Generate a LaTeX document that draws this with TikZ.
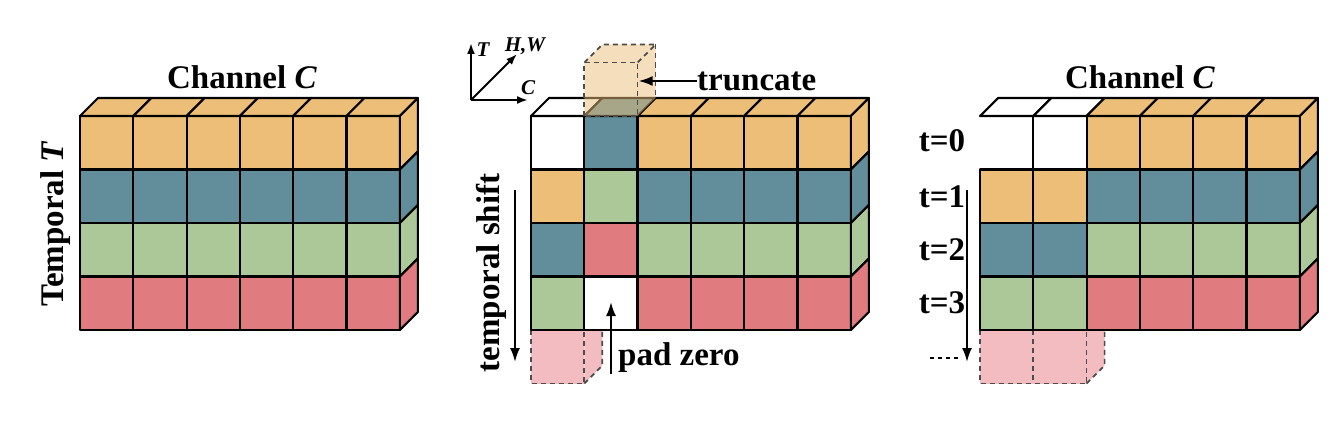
\documentclass[tikz,border=0pt]{standalone}
\usepackage{fontspec}
\setmainfont{Liberation Serif}
\usetikzlibrary{arrows.meta}
\definecolor{ora}{HTML}{ECBE78}
\definecolor{blu}{HTML}{628E9B}
\definecolor{gre}{HTML}{ACC898}
\definecolor{redc}{HTML}{E07C80}
\definecolor{pnk}{HTML}{F2BCC0}
\def\w{53.3}
\def\h{53.5}
\def\d{18}
\newcommand\mycol[5]{\foreach \r/\c in {0/#2,1/#3,2/#4,3/#5}{\filldraw[cell,fill=\c] ({#1},{116+\r*\h}) rectangle ++(\w,\h);}}
\newcommand\mytop[2]{\filldraw[cell,fill=#2] ({#1},116) -- ++(\d,-\d) -- ++(\w,0) -- ++(-\d,\d) -- cycle;}
\newcommand\myside[1]{\foreach \r/\c in {0/ora,1/blu,2/gre,3/redc}{\filldraw[cell,fill=\c] ({#1},{116+\r*\h}) -- ++(\d,-\d) -- ++(0,\h) -- ++(-\d,\d) -- cycle;}}
\begin{document}
\begin{tikzpicture}[x=1pt,y=-1pt,
  cell/.style={draw=black,line width=2.1pt,line join=round},
  dsh/.style={draw=black!70,line width=1.7pt,dash pattern=on 5pt off 4pt},
  arr/.style={line width=2pt,-{Latex[length=14pt,width=10pt]}},
  big/.style={inner sep=0pt,font=\fontsize{33}{36}\selectfont\bfseries},
  small/.style={inner sep=0pt,font=\fontsize{21}{24}\selectfont\bfseries\itshape}]
\useasboundingbox (0,0) rectangle (1332,420);
% ---------------- left block ----------------
\foreach \i in {0,...,5}{\mycol{80+\i*\w}{ora}{blu}{gre}{redc}}
\foreach \i in {0,...,5}{\mytop{80+\i*\w}{ora}}
\myside{80+6*\w}
\node[big] (chL) at (242,77) {Channel \textit{C}};
\node[big,rotate=90] (temT) at (56,224) {Temporal \textit{T}};
% ---------------- middle block ----------------
% padded cell below
\fill[pnk] (531,330) rectangle ++(\w,\h);
\fill[pnk] ({531+\w},330) -- ++(\d,0) -- ({531+\w+\d},{330+\h-\d}) -- ({531+\w},{330+\h}) -- cycle;
\draw[dsh] (531,330) -- ++(0,\h) -- ++(\w,0) -- ++(0,-\h);
\draw[dsh] ({531+\w},{330+\h}) -- ++(\d,-\d) -- ({531+\w+\d},330);
\mycol{531}{white}{ora}{blu}{gre}
\mycol{531+\w}{blu}{gre}{redc}{white}
\foreach \i in {2,...,5}{\mycol{531+\i*\w}{ora}{blu}{gre}{redc}}
\mytop{531}{white}
\mytop{531+\w}{blu}
\foreach \i in {2,...,5}{\mytop{531+\i*\w}{ora}}
\myside{531+6*\w}
\draw[line width=3pt] ({531+2*\w},116) -- ({531+2*\w},330);
% truncated cube
\fill[ora,opacity=0.5] ({531+\w},116) -- ++(0,-\h) -- ++(\d,-\d) -- ++(\w,0) -- ++(0,\h) -- ++(-\d,\d) -- cycle;
\draw[dsh] ({531+\w},116) rectangle ++(\w,-\h);
\draw[dsh] ({531+\w},{116-\h}) -- ++(\d,-\d) -- ++(\w,0) -- ++(-\d,\d);
\draw[dsh] ({531+2*\w+\d},{116-\h-\d}) -- ({531+2*\w+\d},{116-\d});
% axes
\coordinate (ax0) at (471,100);
\coordinate (axT) at (471,43);
\coordinate (axC) at (528,100);
\coordinate (axH) at (517,54);
\draw[line width=2pt,-{Latex[length=11pt,width=8pt]}] (ax0) -- (axT);
\draw[line width=2pt,-{Latex[length=11pt,width=8pt]}] (ax0) -- (axC);
\draw[line width=2pt,-{Latex[length=11pt,width=8pt]}] (ax0) -- (axH);
\node[small] (lT) at (483,50) {T};
\node[small] (lHW) at (525,46) {H,W};
\node[small] (lC) at (528,88) {C};
% labels and arrows
\node[big,anchor=west] (trunc) at (697,81) {truncate};
\coordinate (truncTip) at ({531+2*\w+1},81);
\draw[arr] (trunc.west) -- (truncTip);
\node[big,rotate=90] (tshift) at (491,273) {temporal shift};
\coordinate (tsA) at (515,190);
\coordinate (tsB) at (515,362);
\draw[arr] (tsA) -- (tsB);
\node[big,anchor=west] (padz) at (618,358) {pad zero};
\coordinate (pzA) at (611,374);
\coordinate (pzB) at (611,302);
\draw[arr] (pzA) -- (pzB);
% ---------------- right block ----------------
\fill[pnk] (980,330) rectangle ++({2*\w},\h);
\fill[pnk] ({980+2*\w},330) -- ++(\d,0) -- ({980+2*\w+\d},{330+\h-\d}) -- ({980+2*\w},{330+\h}) -- cycle;
\draw[dsh] (980,330) -- ++(0,\h) -- ++({2*\w},0) -- ++(0,-\h);
\draw[dsh] ({980+\w},330) -- ++(0,\h);
\draw[dsh] ({980+2*\w},{330+\h}) -- ++(\d,-\d) -- ({980+2*\w+\d},330);
\foreach \i in {0,1}{\foreach \r/\c in {1/ora,2/blu,3/gre}{\filldraw[cell,fill=\c] ({980+\i*\w},{116+\r*\h}) rectangle ++(\w,\h);}}
\draw[cell] ({980+\w},116) -- ++(0,\h);
\foreach \i in {2,...,5}{\mycol{980+\i*\w}{ora}{blu}{gre}{redc}}
\mytop{980}{white}
\mytop{980+\w}{white}
\foreach \i in {2,...,5}{\mytop{980+\i*\w}{ora}}
\myside{980+6*\w}
\node[big] (chR) at (1140,77) {Channel \textit{C}};
\node[big] (t0) at (942,141) {t=0};
\node[big] (t1) at (942,197) {t=1};
\node[big] (t2) at (942,250) {t=2};
\node[big] (t3) at (942,303) {t=3};
\coordinate (rA) at (967,190);
\coordinate (rB) at (967,362);
\draw[arr] (rA) -- (rB);
\coordinate (dA) at (930,358);
\coordinate (dB) at (959,358);
\draw[line width=1.5pt,dash pattern=on 4pt off 4pt] (dA) -- (dB);
\end{tikzpicture}
\end{document}
